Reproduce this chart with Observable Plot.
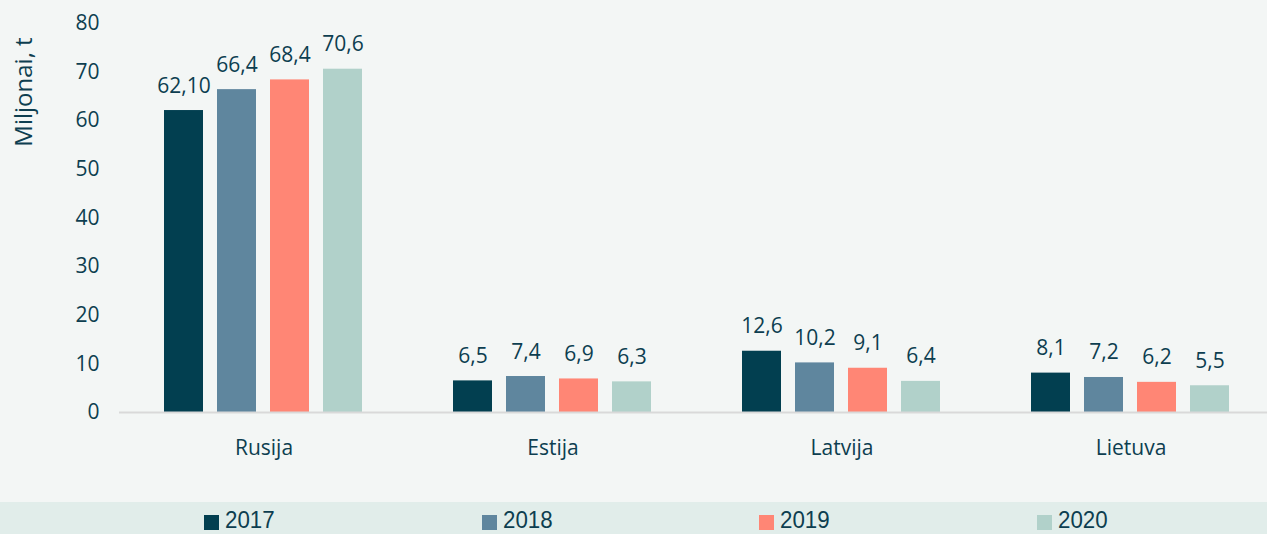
<!DOCTYPE html>
<html>
<head>
<meta charset="utf-8">
<script src="https://cdn.jsdelivr.net/npm/d3@7"></script>
<script src="https://cdn.jsdelivr.net/npm/@observablehq/plot@0.6"></script>
<style>
  html, body { margin: 0; padding: 0; background: #f3f6f5; overflow: hidden; width: 1267px; height: 534px; }
  #wrap { position: relative; width: 1267px; height: 534px; overflow: hidden; font-family: "Open Sans", sans-serif; color: #0d3e50; }
  #chart svg { display: block; overflow: visible; max-width: none !important; }
  #ylabel { position: absolute; left: 22px; top: 92px; transform: translate(-50%, -50%) rotate(-90deg); font-size: 24px; white-space: nowrap; color: #0d3e50; }
  #legend { position: absolute; left: 0; top: 502px; width: 1267px; height: 32px; background: #e1edea; }
  .item { position: absolute; top: 0; height: 32px; display: flex; align-items: flex-end; }
  .sw { width: 15px; height: 15px; margin-bottom: 4px; margin-right: 6px; flex: none; }
  .lt { font-family: "Liberation Sans", sans-serif; font-size: 24px; line-height: 18px; height: 18px; transform: scaleX(0.93); transform-origin: left bottom; margin-bottom: 5px; color: #0d3e50; }
</style>
</head>
<body>
<div id="wrap">
  <div id="chart"></div>
  <div id="ylabel">Miljonai, t</div>
  <div id="legend"></div>
</div>
<script>
const countries = ["Rusija", "Estija", "Latvija", "Lietuva"];
const years = ["2017", "2018", "2019", "2020"];
const colors = ["#023f50", "#5f869e", "#ff8675", "#b1d1ca"];
const valRusija  = [62.1, 66.4, 68.4, 70.6];
const valEstija  = [6.5, 7.4, 6.9, 6.3];
const valLatvija = [12.6, 10.2, 9.1, 6.4];
const valLietuva = [8.1, 7.2, 6.2, 5.5];
const lblRusija  = ["62,10", "66,4", "68,4", "70,6"];
const lblEstija  = ["6,5", "7,4", "6,9", "6,3"];
const lblLatvija = ["12,6", "10,2", "9,1", "6,4"];
const lblLietuva = ["8,1", "7,2", "6,2", "5,5"];
const yTicks = [0, 10, 20, 30, 40, 50, 60, 70, 80];

const vals = [valRusija, valEstija, valLatvija, valLietuva];
const lbls = [lblRusija, lblEstija, lblLatvija, lblLietuva];
const data = [];
countries.forEach((c, i) => years.forEach((y, j) => data.push({country: c, year: y, value: vals[i][j], label: lbls[i][j]})));

const textColor = "#0d3e50";
const fs = 21;
const chart = Plot.plot({
  width: 1276,
  height: 502,
  marginLeft: 117,
  marginRight: 0,
  marginTop: 23,
  marginBottom: 90,
  style: { background: "transparent", fontFamily: "Open Sans, sans-serif", fontSize: fs + "px", color: textColor, maxWidth: "none" },
  fx: { domain: countries, padding: 0, label: null },
  x: { domain: years, paddingInner: 0.26, paddingOuter: 0.81, axis: null },
  y: { domain: [0, 80], ticks: yTicks, label: null },
  color: { domain: years, range: colors },
  marks: [
    Plot.axisY({ ticks: yTicks, tickSize: 0, tickPadding: 20, label: null, fontSize: fs, fill: textColor }),
    Plot.axisFx({ tickSize: 0, tickPadding: 28, label: null, fontSize: fs, fill: textColor, anchor: "bottom" }),
    Plot.barY(data, { fx: "country", x: "year", y: "value", fill: "year" }),
    Plot.ruleY([0], { stroke: "#d9d9d9", strokeWidth: 2 }),
    Plot.text(data, { fx: "country", x: "year", y: "value", text: "label", lineAnchor: "bottom", dy: -18, fontSize: fs, fill: textColor })
  ]
});
document.getElementById("chart").appendChild(chart);

const legend = document.getElementById("legend");
const legendLeft = [204, 482, 759, 1037];
years.forEach((y, i) => {
  const it = document.createElement("div");
  it.className = "item";
  it.style.left = legendLeft[i] + "px";
  it.innerHTML = `<div class="sw" style="background:${colors[i]}"></div><div class="lt">${y}</div>`;
  legend.appendChild(it);
});
</script>
</body>
</html>
